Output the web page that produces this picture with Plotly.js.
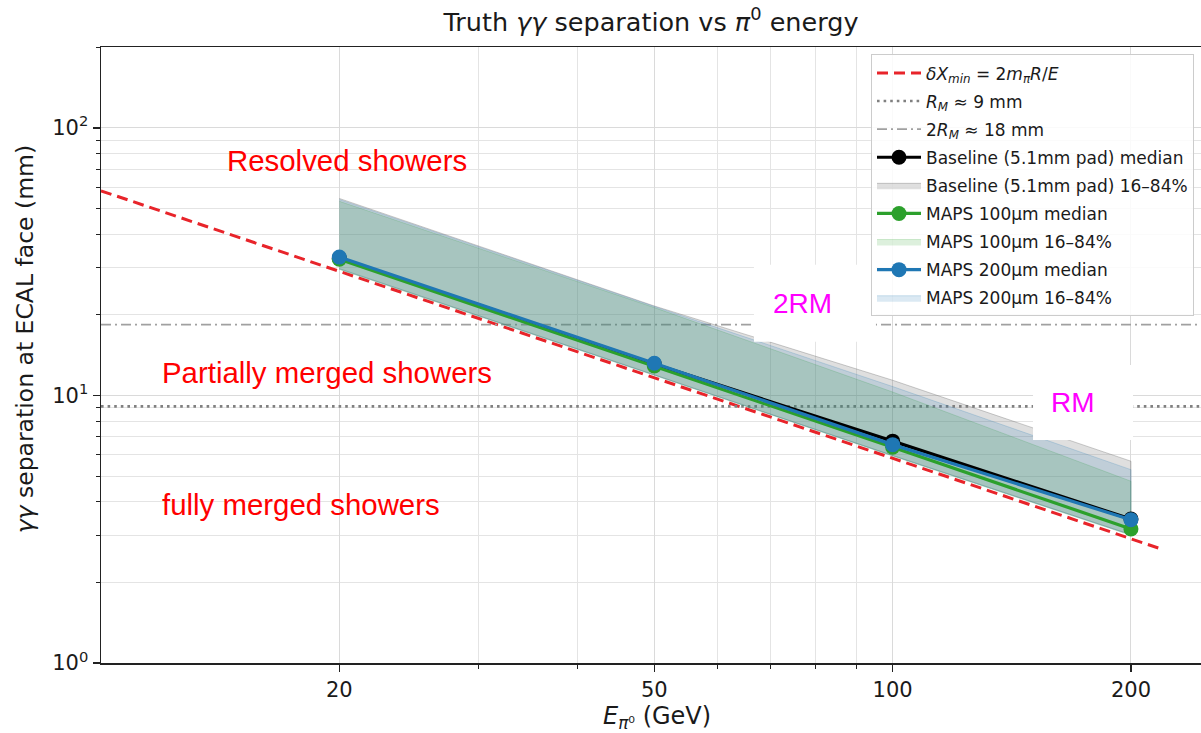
<!DOCTYPE html>
<html>
<head>
<meta charset="utf-8">
<script src="https://cdn.plot.ly/plotly-3.0.1.min.js"></script>
<style>html,body{margin:0;padding:0;background:#fff;}#chart{width:1201px;height:733px;}</style>
</head>
<body>
<div id="chart"></div>
<script>
// ---- data ----
const energy = [20, 50, 100, 200];                 // GeV
// theoretical minimum separation dX_min = 2 m_pi R / E
const lineE  = [10, 20, 50, 100, 200, 219];
const lineDX = [58.2, 29.1, 11.6, 5.82, 2.91, 2.66];
// Moliere radius references
const rmValue = 9.1;
const twoRmValue = 18.4;
const spanE = [10, 260];
// medians (mm)
const baseMedian  = [32.6, 13.1, 6.75, 3.45];
const maps100Median = [32.3, 12.9, 6.4, 3.17];
const maps200Median = [32.9, 13.2, 6.55, 3.43];
// 16-84% bands (mm)
const baseLo  = [29.8, 11.95, 5.97, 3.02];
const baseHi  = [54.5, 21.6, 11.4, 5.68];
const maps100Lo = [29.6, 11.9, 5.94, 3.0];
const maps100Hi = [53.2, 21.3, 10.3, 4.78];
const maps200Lo = [29.7, 11.9, 5.95, 3.01];
const maps200Hi = [54.0, 21.5, 10.8, 5.28];
// tick labels
const xTicks = [20, 50, 100, 200];
const xTickText = ['20', '50', '100', '200'];
const xMinor = [30, 40, 60, 70, 80, 90];
const yTicks = [1, 10, 100];
const yTickText = ['10<sup>0</sup>', '10<sup>1</sup>', '10<sup>2</sup>'];
const yMinor = [2,3,4,5,6,7,8,9,20,30,40,50,60,70,80,90,200];

function band(lo, hi) {
  return { x: energy.concat(energy.slice().reverse()), y: hi.concat(lo.slice().reverse()) };
}

const FONT = 'DejaVu Sans, sans-serif';
const ARIAL = 'Liberation Sans, Arial, sans-serif';
const traces = [];

traces.push({
  x: lineE, y: lineDX, mode: 'lines', name: '<i>δX</i><sub><i>min</i></sub> = 2<i>m</i><sub><i>π</i></sub><i>R</i>/<i>E</i>',
  line: {color: '#e8242a', width: 3, dash: '11px,6px'}, legendgroup: 'a', legendrank: 1
});
traces.push({
  x: spanE, y: [rmValue, rmValue], mode: 'lines', name: '<i>R</i><sub><i>M</i></sub> ≈ 9 mm',
  line: {color: '#808080', width: 2.6, dash: '2.6px,4px'}, legendgroup: 'b', legendrank: 2
});
traces.push({
  x: spanE, y: [twoRmValue, twoRmValue], mode: 'lines', name: '2<i>R</i><sub><i>M</i></sub> ≈ 18 mm',
  line: {color: '#a0a0a0', width: 1.8, dash: '10px,4px,2px,4px'}, legendgroup: 'c', legendrank: 3
});

const b0 = band(baseLo, baseHi), b1 = band(maps100Lo, maps100Hi), b2 = band(maps200Lo, maps200Hi);
traces.push({x: b0.x, y: b0.y, mode: 'lines', fill: 'toself', fillcolor: 'rgba(128,128,128,0.25)',
  line: {color: 'rgba(110,110,110,0.35)', width: 1}, name: 'Baseline (5.1mm pad) 16–84%', legendgroup: 'e', legendrank: 5});
traces.push({x: b1.x, y: b1.y, mode: 'lines', fill: 'toself', fillcolor: 'rgba(44,160,44,0.16)',
  line: {color: 'rgba(44,160,44,0.2)', width: 1}, name: 'MAPS 100μm 16–84%', legendgroup: 'g', legendrank: 7});
traces.push({x: b2.x, y: b2.y, mode: 'lines', fill: 'toself', fillcolor: 'rgba(31,119,180,0.16)',
  line: {color: 'rgba(31,119,180,0.2)', width: 1}, name: 'MAPS 200μm 16–84%', legendgroup: 'i', legendrank: 9});

traces.push({x: energy, y: baseMedian, mode: 'lines+markers', name: 'Baseline (5.1mm pad) median',
  line: {color: '#000000', width: 3.2}, marker: {color: '#000000', size: 15}, legendgroup: 'd', legendrank: 4});
traces.push({x: energy, y: maps100Median, mode: 'lines+markers', name: 'MAPS 100μm median',
  line: {color: '#2ca02c', width: 3.2}, marker: {color: '#2ca02c', size: 15}, legendgroup: 'f', legendrank: 6});
traces.push({x: energy, y: maps200Median, mode: 'lines+markers', name: 'MAPS 200μm median',
  line: {color: '#1f77b4', width: 3.2}, marker: {color: '#1f77b4', size: 15}, legendgroup: 'h', legendrank: 8});

traces.forEach(t => { t.hoverinfo = 'skip'; });

const layout = {
  width: 1201, height: 733, autosize: false,
  margin: {l: 101, r: 0, t: 47, b: 70, pad: 0},
  paper_bgcolor: '#ffffff', plot_bgcolor: '#ffffff',
  font: {family: FONT, color: '#1a1a1a'},
  showlegend: true,
  title: {text: 'Truth <i>γγ</i> separation vs <i>π</i><sup>0</sup> energy',
    font: {family: FONT, size: 25.5, color: '#1a1a1a'},
    x: 0.5, xref: 'paper', xanchor: 'center', y: 0.97, yref: 'container', yanchor: 'middle'},
  xaxis: {
    type: 'log', range: [1.0, 2.3895], autorange: false,
    tickmode: 'array', tickvals: xTicks, ticktext: xTickText,
    tickfont: {family: FONT, size: 21, color: '#1a1a1a'},
    ticks: 'outside', ticklen: 7, tickwidth: 1.3, tickcolor: '#222',
    showline: true, linecolor: '#222', linewidth: 1.5, mirror: true,
    showgrid: true, gridcolor: '#dadada', gridwidth: 1, zeroline: false,
    minor: {tickmode: 'array', tickvals: xMinor, ticks: 'outside', ticklen: 4, tickwidth: 1, tickcolor: '#222',
      showgrid: true, gridcolor: '#e4e4e4', gridwidth: 1},
    automargin: false
  },
  yaxis: {
    type: 'log', range: [0, 2.3025], autorange: false,
    tickmode: 'array', tickvals: yTicks, ticktext: yTickText,
    tickfont: {family: FONT, size: 21, color: '#1a1a1a'},
    ticks: 'outside', ticklen: 7, tickwidth: 1.3, tickcolor: '#222',
    showline: true, linecolor: '#222', linewidth: 1.5, mirror: false,
    showgrid: true, gridcolor: '#dadada', gridwidth: 1, zeroline: false,
    minor: {tickmode: 'array', tickvals: yMinor, ticks: 'outside', ticklen: 4, tickwidth: 1, tickcolor: '#222',
      showgrid: true, gridcolor: '#e4e4e4', gridwidth: 1},
    automargin: false
  },
  legend: {
    x: 0.7, y: 0.988, xanchor: 'left', yanchor: 'top',
    bgcolor: 'rgba(255,255,255,0.85)', bordercolor: '#cccccc', borderwidth: 1,
    font: {family: FONT, size: 17, color: '#1a1a1a'},
    tracegroupgap: 3, itemwidth: 44, traceorder: 'grouped'
  },
  shapes: [
    {type: 'rect', xref: 'paper', yref: 'paper', x0: 0.5936, x1: 0.7045, y0: 0.5215, y1: 0.6464,
      fillcolor: '#ffffff', line: {width: 0}, layer: 'above'},
    {type: 'rect', xref: 'paper', yref: 'paper', x0: 0.8473, x1: 0.9382, y0: 0.362, y1: 0.4838,
      fillcolor: '#ffffff', line: {width: 0}, layer: 'above'}
  ],
  annotations: [
    {text: '<i>γγ</i> separation at ECAL face (mm)', xref: 'paper', yref: 'paper', x: -0.0691, y: 0.527,
      textangle: -90, showarrow: false, font: {family: FONT, size: 23.5, color: '#1a1a1a'}, xanchor: 'center', yanchor: 'middle'},
    {text: '<i>E</i><sub><i>π</i>⁰</sub> (GeV)', xref: 'paper', yref: 'paper', x: 0.505, y: -0.089,
      showarrow: false, font: {family: FONT, size: 24, color: '#1a1a1a'}, xanchor: 'center', yanchor: 'middle'},
    {text: 'Resolved showers', xref: 'paper', yref: 'paper', x: 0.2236, y: 0.815, showarrow: false,
      font: {family: ARIAL, size: 29.4, color: '#ff0000'}, xanchor: 'center', yanchor: 'middle'},
    {text: 'Partially merged showers', xref: 'paper', yref: 'paper', x: 0.2055, y: 0.4724, showarrow: false,
      font: {family: ARIAL, size: 29.4, color: '#ff0000'}, xanchor: 'center', yanchor: 'middle'},
    {text: 'fully merged showers', xref: 'paper', yref: 'paper', x: 0.1818, y: 0.258, showarrow: false,
      font: {family: ARIAL, size: 29.4, color: '#ff0000'}, xanchor: 'center', yanchor: 'middle'},
    {text: '2RM', xref: 'paper', yref: 'paper', x: 0.638, y: 0.5844, showarrow: false,
      font: {family: ARIAL, size: 28, color: '#ff00ff'}, xanchor: 'center', yanchor: 'middle'},
    {text: 'RM', xref: 'paper', yref: 'paper', x: 0.8836, y: 0.4237, showarrow: false,
      font: {family: ARIAL, size: 28, color: '#ff00ff'}, xanchor: 'center', yanchor: 'middle'}
  ]
};

Plotly.newPlot('chart', traces, layout, {staticPlot: true, displayModeBar: false});
</script>
</body>
</html>
